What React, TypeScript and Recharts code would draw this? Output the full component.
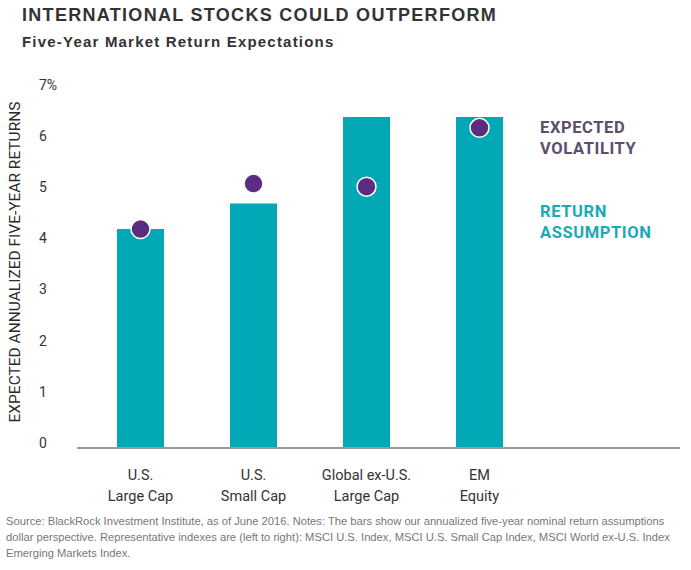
import React from 'react';
import { ComposedChart, Bar, Scatter, XAxis, YAxis, Label } from 'recharts';

const categories = ['U.S.\nLarge Cap', 'U.S.\nSmall Cap', 'Global ex-U.S.\nLarge Cap', 'EM\nEquity'];
const returnAssumption = [4.28, 4.78, 6.47, 6.47];
const expectedVolatility = [4.28, 5.17, 5.11, 6.26];
const yTicks = [0, 1, 2, 3, 4, 5, 6, 7];
const yTickLabels = ['0', '1', '2', '3', '4', '5', '6', '7%'];
const footnoteLines = [
  'Source: BlackRock Investment Institute, as of June 2016. Notes: The bars show our annualized five-year nominal return assumptions',
  'dollar perspective. Representative indexes are (left to right): MSCI U.S. Index, MSCI U.S. Small Cap Index, MSCI World ex-U.S. Index',
  'Emerging Markets Index.',
];

const data = categories.map((c, i) => ({
  name: c,
  ret: returnAssumption[i],
  vol: expectedVolatility[i],
}));

const TEAL = '#02a8b6';
const PURPLE = '#5c2c80';

const XTick = (props: any) => {
  const { x, y, payload } = props;
  const lines = String(payload.value).split('\n');
  return (
    <g>
      {lines.map((l: string, i: number) => (
        <text key={i} x={x} y={y + 24 + i * 21} textAnchor="middle" fontFamily="Roboto, sans-serif" fontSize={14.5} fill="#333">
          {l}
        </text>
      ))}
    </g>
  );
};

const YTick = (props: any) => {
  const { y, payload } = props;
  const idx = yTicks.indexOf(payload.value);
  return (
    <text x={39} y={y - 5} dy="0.35em" textAnchor="start" fontFamily="Roboto, sans-serif" fontSize={14} fill="#333">
      {yTickLabels[idx]}
    </text>
  );
};

const Dot = (props: any) => {
  const { cx, cy } = props;
  return <circle cx={cx} cy={cy} r={9.5} fill={PURPLE} stroke="#fff" strokeWidth={1.5} />;
};

const YLabel = () => (
  <text
    x={15}
    y={262}
    transform="rotate(-90, 15, 262)"
    textAnchor="middle"
    dominantBaseline="central"
    fontFamily="Roboto, sans-serif"
    fontSize={15.5}
    fill="#2a2a2a"
  >
    EXPECTED ANNUALIZED FIVE-YEAR RETURNS
  </text>
);

export default function App() {
  return (
    <div style={{ position: 'absolute', left: 0, top: 0, width: 691, height: 570, background: '#fff', overflow: 'hidden' }}>
      <div style={{ position: 'absolute', left: 22, top: 5, fontFamily: '"Liberation Sans", Arial, sans-serif', fontWeight: 'bold', fontSize: 18, letterSpacing: 1.3, color: '#333', whiteSpace: 'nowrap' }}>
        INTERNATIONAL STOCKS COULD OUTPERFORM
      </div>
      <div style={{ position: 'absolute', left: 22, top: 33, fontFamily: '"Liberation Sans", Arial, sans-serif', fontWeight: 'bold', fontSize: 15, letterSpacing: 1.2, color: '#333', whiteSpace: 'nowrap' }}>
        Five-Year Market Return Expectations
      </div>
      <div style={{ position: 'absolute', left: 0, top: 0 }}>
        <ComposedChart width={691} height={510} data={data} margin={{ top: 90, right: 11, bottom: 12, left: 0 }}>
          <XAxis
            dataKey="name"
            height={50}
            padding={{ left: 7, right: 144 }}
            tickLine={false}
            axisLine={{ stroke: '#999', strokeWidth: 2 }}
            tick={<XTick />}
            interval={0}
          />
          <YAxis
            width={77}
            domain={[0, 7]}
            ticks={yTicks}
            axisLine={false}
            tickLine={false}
            tick={<YTick />}
          >
            <Label content={<YLabel />} />
          </YAxis>
          <Bar dataKey="ret" fill={TEAL} barSize={47} isAnimationActive={false} />
          <Scatter dataKey="vol" shape={<Dot />} isAnimationActive={false} />
        </ComposedChart>
      </div>
      <div style={{ position: 'absolute', left: 540, top: 117, fontFamily: 'Roboto, sans-serif', fontWeight: 'bold', fontSize: 16.5, lineHeight: '21px', letterSpacing: 0.6, color: '#5e4d6e' }}>
        EXPECTED<br />VOLATILITY
      </div>
      <div style={{ position: 'absolute', left: 540, top: 201, fontFamily: 'Roboto, sans-serif', fontWeight: 'bold', fontSize: 16.5, lineHeight: '21px', letterSpacing: 0.6, color: '#1aa9b6' }}>
        RETURN<br />ASSUMPTION
      </div>
      <div style={{ position: 'absolute', left: 6, top: 513, fontFamily: '"Liberation Sans", Arial, sans-serif', fontSize: 11.2, lineHeight: '16px', color: '#777' }}>
        {footnoteLines.map((l, i) => (
          <div key={i} style={{ whiteSpace: 'nowrap' }}>{l}</div>
        ))}
      </div>
    </div>
  );
}
